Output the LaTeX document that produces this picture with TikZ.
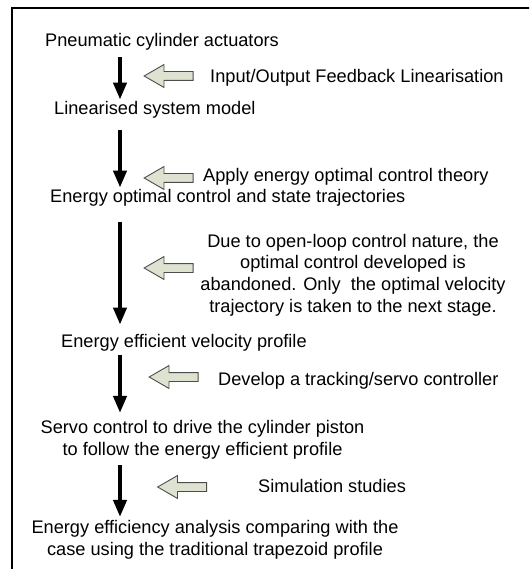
\documentclass[tikz,border=0pt]{standalone}
\usepackage{fontspec}
\setmainfont{Liberation Sans}
\usetikzlibrary{arrows.meta, shapes.arrows}

\begin{document}
\begin{tikzpicture}[
  x=1pt, y=-1pt,
  stage/.style={inner sep=0pt, align=center, font=\fontsize{18.2}{21.7}\selectfont},
  note/.style={inner sep=0pt, align=center, font=\fontsize{18.2}{21.7}\selectfont},
  flow/.style={-{Triangle[length=17pt, width=13pt]}, line width=4pt},
  hint/.style={single arrow, shape border rotate=180, draw=black!70, fill=hintfill, line width=0.9pt,
    minimum height=49pt, single arrow head extend=7pt, single arrow tip angle=60, inner sep=0pt},
  frame/.style={draw, line width=1.6pt}
]
\definecolor{hintfill}{RGB}{221,227,208}

\useasboundingbox (0,0) rectangle (529,569);
\clip (0,0) rectangle (529,569);
\draw[frame] (12,8) rectangle (600,640);

% stages down the left
\node[stage, anchor=base west] (s1) at (45,47) {Pneumatic cylinder actuators};
\node[stage, anchor=base west] (s2) at (54,115) {Linearised system model};
\node[stage, anchor=base west] (s3) at (50,202) {Energy optimal control and state trajectories};
\node[stage, anchor=base west] (s4) at (61,347) {Energy efficient velocity profile};
\node[stage] (s5) at (202.5,439.5) {Servo control to drive the cylinder piston\\to follow the energy efficient profile};
\node[stage] (s6) at (215,539.5) {Energy efficiency analysis comparing with the\\case using the traditional trapezoid profile};

\coordinate (axis) at (120,0);

\draw[flow, shorten <=6pt, shorten >=2pt] (axis |- s1.south) -- (axis |- s2.north);
\draw[flow, shorten <=11pt, shorten >=1pt] (axis |- s2.south) -- (axis |- s3.north);
\draw[flow, shorten <=16pt, shorten >=9pt] (axis |- s3.south) -- (axis |- s4.north);
\draw[flow, shorten <=4pt, shorten >=7pt] (axis |- s4.south) -- (axis |- s5.north);
\draw[flow, shorten <=6pt, shorten >=3pt] (axis |- s5.south) -- (axis |- s6.north);

% hollow arrows and notes
\node[hint] (h1) at (172.5,76) {\rule{0pt}{8pt}};
\node[hint] (h2) at (172.5,178) {\rule{0pt}{8pt}};
\node[hint] (h3) at (172.5,268) {\rule{0pt}{8pt}};
\node[hint] (h4) at (177.5,377) {\rule{0pt}{8pt}};
\node[hint] (h5) at (186,487) {\rule{0pt}{8pt}};

\node[note, anchor=base west] (t1) at (210,83) {Input/Output Feedback Linearisation};
\node[note, anchor=base west] (t2) at (203,182) {Apply energy optimal control theory};
\node[note] (t3) at (353,275) {Due to open-loop control nature, the\\optimal control developed is\\abandoned. Only \ the optimal velocity\\trajectory is taken to the next stage.};
\node[note, anchor=base west] (t4) at (218,385) {Develop a tracking/servo controller};
\node[note, anchor=base west] (t5) at (258,492) {Simulation studies};

\end{tikzpicture}
\end{document}
